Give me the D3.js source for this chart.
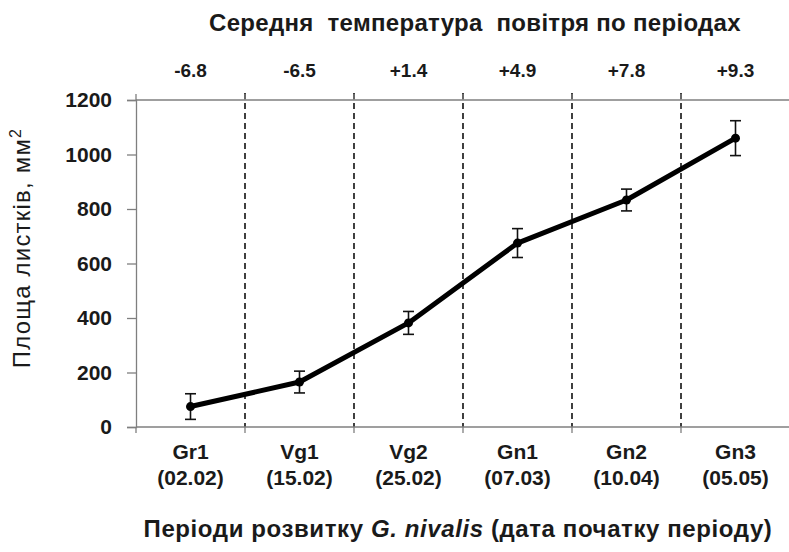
<!DOCTYPE html>
<html>
<head>
<meta charset="utf-8">
<script src="https://cdn.jsdelivr.net/npm/d3@7"></script>
<style>
  html, body { margin: 0; padding: 0; background: #fff; }
  svg { display: block; }
  text { font-family: "Liberation Sans", Arial, sans-serif; fill: #1a1a1a; }
</style>
</head>
<body>
<svg id="chart" width="789" height="552"></svg>
<script>
const periods = ["Gr1", "Vg1", "Vg2", "Gn1", "Gn2", "Gn3"];
const dates = ["(02.02)", "(15.02)", "(25.02)", "(07.03)", "(10.04)", "(05.05)"];
const temperatures = ["-6.8", "-6.5", "+1.4", "+4.9", "+7.8", "+9.3"];
const leafArea = [75, 165, 382, 675, 833, 1060];
const leafAreaError = [47, 40, 42, 53, 40, 64];
const yTicks = [0, 200, 400, 600, 800, 1000, 1200];

(function () {
const svg = d3.select("#chart");
const pLeft = 136, pRight = 790, pTop = 100, pBottom = 427;

const x = d3.scaleBand().domain(periods).range([pLeft, pRight]).padding(0);
const y = d3.scaleLinear().domain([0, 1200]).range([pBottom, pTop]);
const axisColor = "#7f7f7f";

// Dashed period separators
const boundaries = periods.slice(1).map(p => x(p));
svg.append("g").selectAll("line").data(boundaries).join("line")
  .attr("x1", d => d).attr("x2", d => d)
  .attr("y1", pTop - 7).attr("y2", pBottom)
  .attr("stroke", "#111").attr("stroke-width", 1.6)
  .attr("stroke-dasharray", "6,4");

// Y axis
const yAxis = svg.append("g").attr("transform", `translate(${pLeft},0)`)
  .call(d3.axisLeft(y).tickValues(yTicks).tickSize(9).tickPadding(15).tickFormat(d3.format("d")));
yAxis.selectAll("path, line").attr("stroke", axisColor).attr("stroke-width", 1.3);
yAxis.selectAll("text").attr("font-size", 21).attr("font-weight", "bold")
  .attr("font-family", "'Liberation Sans', Arial, sans-serif").attr("fill", "#1a1a1a");

// Bottom axis (ticks at period boundaries)
const allBounds = [pLeft, ...boundaries, pRight];
svg.append("line").attr("x1", pLeft).attr("x2", pRight).attr("y1", pBottom).attr("y2", pBottom)
  .attr("stroke", axisColor).attr("stroke-width", 1.3);
svg.append("g").selectAll("line").data(allBounds).join("line")
  .attr("x1", d => d).attr("x2", d => d).attr("y1", pBottom).attr("y2", pBottom + 6)
  .attr("stroke", axisColor).attr("stroke-width", 1.3);

// Top border
svg.append("line").attr("x1", pLeft).attr("x2", pRight).attr("y1", pTop).attr("y2", pTop)
  .attr("stroke", axisColor).attr("stroke-width", 1.3);
svg.append("g").selectAll("line").data(allBounds).join("line")
  .attr("x1", d => d).attr("x2", d => d).attr("y1", pTop - 6).attr("y2", pTop)
  .attr("stroke", axisColor).attr("stroke-width", 1.3);

// Category labels
const cx = d => x(d) + x.bandwidth() / 2;
svg.append("g").selectAll("text").data(periods).join("text")
  .attr("x", cx).attr("y", 459).attr("text-anchor", "middle")
  .attr("font-size", 21).attr("font-weight", "bold").text(d => d);
svg.append("g").selectAll("text").data(dates).join("text")
  .attr("x", (d, i) => cx(periods[i])).attr("y", 485).attr("text-anchor", "middle")
  .attr("font-size", 21).attr("font-weight", "bold").text(d => d);

// Temperatures
svg.append("g").selectAll("text").data(temperatures).join("text")
  .attr("x", (d, i) => cx(periods[i])).attr("y", 77).attr("text-anchor", "middle")
  .attr("font-size", 19).attr("font-weight", "bold").text(d => d);

// Error bars
const eb = svg.append("g");
periods.forEach((p, i) => {
  const xc = cx(p);
  const y1 = y(leafArea[i] + leafAreaError[i]), y2 = y(leafArea[i] - leafAreaError[i]);
  eb.append("line").attr("x1", xc).attr("x2", xc).attr("y1", y1).attr("y2", y2)
    .attr("stroke", "#111").attr("stroke-width", 1.6);
  [y1, y2].forEach(yy => eb.append("line").attr("x1", xc - 5.5).attr("x2", xc + 5.5)
    .attr("y1", yy).attr("y2", yy).attr("stroke", "#111").attr("stroke-width", 1.6));
});

// Line
const line = d3.line().x((d, i) => cx(periods[i])).y(d => y(d));
svg.append("path").datum(leafArea).attr("d", line)
  .attr("fill", "none").attr("stroke", "#000").attr("stroke-width", 5)
  .attr("stroke-linejoin", "round");
svg.append("g").selectAll("circle").data(leafArea).join("circle")
  .attr("cx", (d, i) => cx(periods[i])).attr("cy", d => y(d)).attr("r", 4.5).attr("fill", "#000");

// Titles
svg.append("text").attr("x", 475).attr("y", 31).attr("text-anchor", "middle")
  .attr("font-size", 24).attr("font-weight", "bold").attr("letter-spacing", 0.3)
  .style("white-space", "pre")
  .text("Середня  температура  повітря по періодах");

const bt = svg.append("text").attr("x", 458).attr("y", 537).attr("text-anchor", "middle")
  .attr("font-size", 24).attr("font-weight", "bold").attr("letter-spacing", 0.6);
bt.append("tspan").text("Періоди розвитку ");
bt.append("tspan").attr("font-style", "italic").text("G. nivalis");
bt.append("tspan").text(" (дата початку періоду)");

const yt = svg.append("text").attr("transform", "translate(30,248) rotate(-90)")
  .attr("text-anchor", "middle").attr("font-size", 24).attr("letter-spacing", 1.2);
yt.append("tspan").text("Площа листків, мм");
yt.append("tspan").attr("dy", -9).attr("font-size", 16).text("2");
})();
</script>
</body>
</html>
